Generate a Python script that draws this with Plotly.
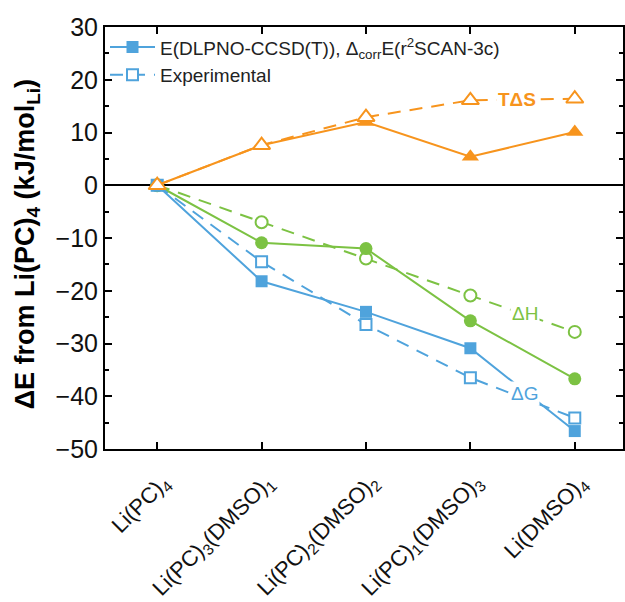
import plotly.graph_objects as go

# Solvation-shell compositions along the x axis
categories = ["Li(PC)<sub>4</sub>",
              "Li(PC)<sub>3</sub>(DMSO)<sub>1</sub>",
              "Li(PC)<sub>2</sub>(DMSO)<sub>2</sub>",
              "Li(PC)<sub>1</sub>(DMSO)<sub>3</sub>",
              "Li(DMSO)<sub>4</sub>"]

# Energies relative to Li(PC)4, kJ/mol_Li
dG_calc = [0, -18.2, -24.0, -30.9, -46.6]
dG_exp = [0, -14.5, -26.4, -36.5, -44.1]
dH_calc = [0, -10.9, -12.0, -25.7, -36.7]
dH_exp = [0, -7.0, -13.9, -20.9, -27.8]
TdS_calc = [0, 7.6, 12.0, 5.4, 10.1]
TdS_exp = [0, 7.6, 12.9, 16.1, 16.4]

BLUE = "#4FA3DC"
GREEN = "#7CC243"
ORANGE = "#F7941D"
FONT = "Arial, Liberation Sans, sans-serif"

x = list(range(len(categories)))
fig = go.Figure()


def add(y, color, symbol, dashed, name=None, show=False, size=12, rank=1000):
    fig.add_trace(go.Scatter(
        x=x, y=y, mode="lines+markers", name=name, showlegend=show, legendrank=rank,
        line=dict(color=color, width=2, dash="13px,9px" if dashed else "solid"),
        marker=dict(symbol=symbol, size=size,
                    color="white" if dashed else color,
                    line=dict(color=color, width=2 if dashed else 0)),
    ))


add(dH_exp, GREEN, "circle", True, size=12)
add(dH_calc, GREEN, "circle", False, size=13)
add(dG_exp, BLUE, "square", True, "Experimental", True, size=11, rank=2)
add(dG_calc, BLUE, "square", False,
    "E(DLPNO-CCSD(T)), Δ<sub>corr</sub>E(r<sup>2</sup>SCAN-3c)", True, size=12, rank=1)
add(TdS_calc, ORANGE, "triangle-up", False, size=15)
add(TdS_exp, ORANGE, "triangle-up", True, size=15)

# Series labels placed on the dashed lines
for txt, xv, yv, col in [("<b>TΔS</b>", 3.45, 16.3, ORANGE),
                         ("ΔH", 3.52, -24.3, GREEN),
                         ("ΔG", 3.52, -39.5, BLUE)]:
    fig.add_annotation(x=xv, y=yv, text=txt, showarrow=False,
                       font=dict(family=FONT, size=19, color=col),
                       bgcolor="white", borderpad=1)

# Rotated category labels under the x axis
for xi, lab in zip(x, categories):
    fig.add_annotation(x=xi, y=0, xref="x", yref="paper", text=lab, showarrow=False,
                       textangle=-45, xanchor="right", yanchor="top",
                       xshift=22, yshift=-18,
                       font=dict(family=FONT, size=22, color="#111111"))

fig.add_annotation(xref="paper", yref="paper", x=(27 - 105) / 520, y=(449 - 244) / 422,
                   text="<b>ΔE from Li(PC)<sub>4</sub> (kJ/mol<sub>Li</sub>)</b>",
                   textangle=-90, showarrow=False, xanchor="center", yanchor="middle",
                   font=dict(family=FONT, size=27, color="black"))

fig.update_layout(
    width=625, height=602,
    margin=dict(l=105, r=0, t=27, b=153),
    plot_bgcolor="white", paper_bgcolor="white",
    font=dict(family=FONT, color="black"),
    legend=dict(x=0.0, y=0.997, xanchor="left", yanchor="top",
                font=dict(family=FONT, size=19, color="#222222"),
                bgcolor="rgba(0,0,0,0)", itemwidth=45, tracegroupgap=0),
    xaxis=dict(range=[-0.5, 4.462], tickmode="array", tickvals=x, showticklabels=False,
               ticks="inside", ticklen=7, tickwidth=2, tickcolor="black",
               showline=True, linecolor="black", linewidth=2, mirror="ticks",
               showgrid=False, zeroline=False),
    yaxis=dict(range=[-50, 30], dtick=10, ticks="inside", ticklen=7, tickwidth=2,
               tickcolor="black", showline=True, linecolor="black", linewidth=2,
               mirror="ticks", showgrid=False, zeroline=True, zerolinecolor="black",
               zerolinewidth=2,
               minor=dict(dtick=5, ticks="inside", ticklen=4, tickwidth=1.5, tickcolor="black"),
               tickfont=dict(family=FONT, size=25, color="#111111")),
)

fig.write_html("out.html")
